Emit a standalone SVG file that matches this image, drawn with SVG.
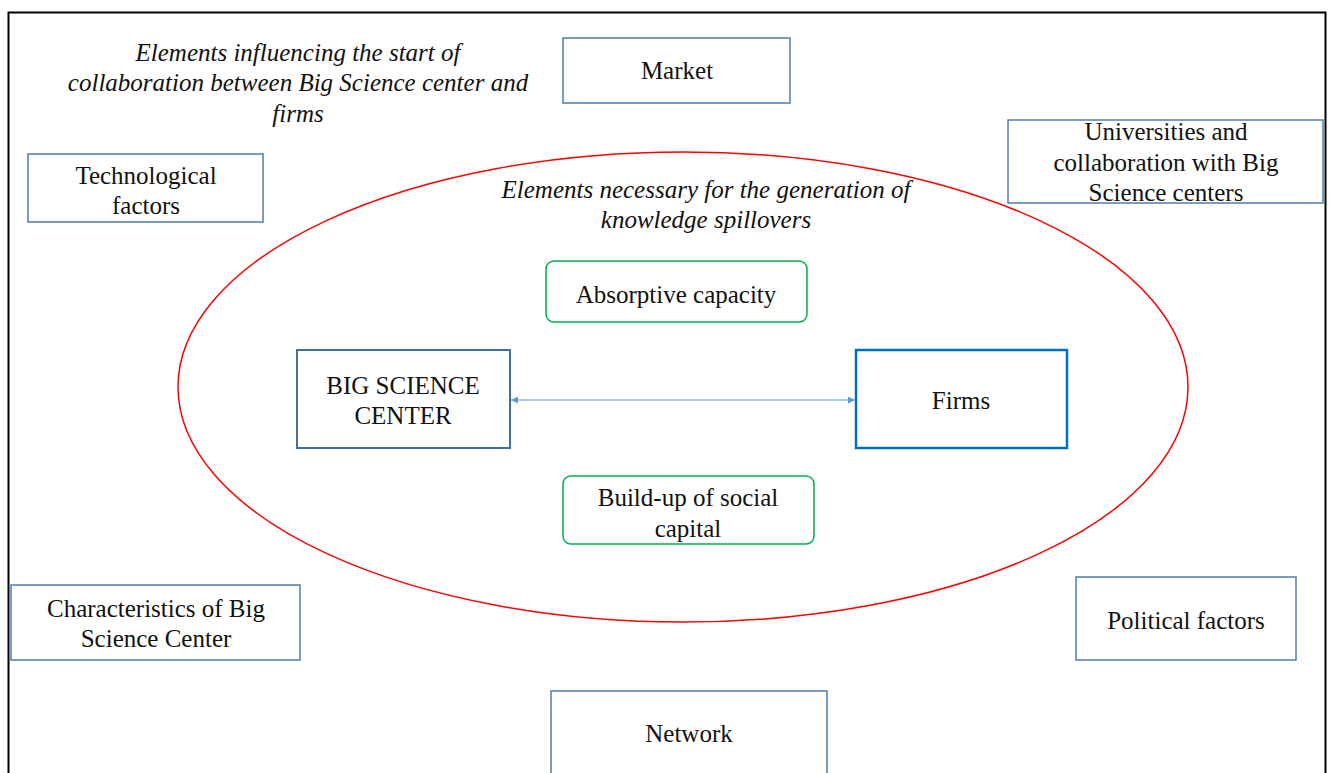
<svg xmlns="http://www.w3.org/2000/svg" width="1330" height="773" viewBox="0 0 1330 773">
  <defs>
    <style>
      .box { fill: #fff; stroke: #4f7cac; stroke-width: 1.5; }
      .core { fill: #fff; stroke: #41719c; stroke-width: 2; }
      .firm { fill: #fff; stroke: #0070c0; stroke-width: 2.5; }
      .soft { fill: #fff; stroke: #00b050; stroke-width: 1.5; }
      .lbl { font-family: "Liberation Serif", "Times New Roman", serif; font-size: 25px; fill: #111; text-anchor: middle; }
      .hdr { font-family: "Liberation Serif", "Times New Roman", serif; font-size: 25px; font-style: italic; fill: #111; text-anchor: middle; }
    </style>
    <marker id="tip" viewBox="0 0 10 10" refX="10" refY="5" markerWidth="7" markerHeight="7" orient="auto-start-reverse" markerUnits="userSpaceOnUse">
      <path d="M0,0 L10,5 L0,10 z" fill="#5b9bd5"/>
    </marker>
  </defs>

  <rect x="0" y="0" width="1330" height="773" fill="#fff"/>
  <!-- outer frame, open at the bottom -->
  <path d="M8.5,773 V12.5 H1325.5 V773" fill="none" stroke="#000" stroke-width="2"/>

  <g id="header-start">
    <text class="hdr" x="298" y="61">Elements influencing the start of</text>
    <text class="hdr" x="298" y="91">collaboration between Big Science center and</text>
    <text class="hdr" x="298" y="122">firms</text>
  </g>

  <g id="spillover-zone">
    <ellipse cx="683" cy="387" rx="505" ry="235" fill="none" stroke="#ff0000" stroke-width="1.5"/>
    <text class="hdr" x="706" y="198">Elements necessary for the generation of</text>
    <text class="hdr" x="706" y="228">knowledge spillovers</text>
  </g>

  <g id="market">
    <rect class="box" x="563" y="38" width="227" height="65"/>
    <text class="lbl" x="677" y="79">Market</text>
  </g>

  <g id="technological">
    <rect class="box" x="28" y="154" width="235" height="68"/>
    <text class="lbl" x="146" y="184">Technological</text>
    <text class="lbl" x="146" y="214">factors</text>
  </g>

  <g id="universities">
    <rect class="box" x="1008" y="120" width="315" height="83"/>
    <text class="lbl" x="1166" y="140">Universities and</text>
    <text class="lbl" x="1166" y="171">collaboration with Big</text>
    <text class="lbl" x="1166" y="201">Science centers</text>
  </g>

  <g id="absorptive">
    <rect class="soft" x="546" y="261" width="261" height="61" rx="8"/>
    <text class="lbl" x="676" y="303">Absorptive capacity</text>
  </g>

  <g id="big-science-center">
    <rect class="core" x="297" y="350" width="213" height="98"/>
    <text class="lbl" x="403" y="394">BIG SCIENCE</text>
    <text class="lbl" x="403" y="424">CENTER</text>
  </g>

  <g id="firms">
    <rect class="firm" x="856" y="350" width="211" height="98"/>
    <text class="lbl" x="961" y="409">Firms</text>
  </g>

  <g id="social-capital">
    <rect class="soft" x="563" y="476" width="251" height="68" rx="8"/>
    <text class="lbl" x="688" y="506">Build-up of social</text>
    <text class="lbl" x="688" y="537">capital</text>
  </g>

  <g id="characteristics">
    <rect class="box" x="11" y="585" width="289" height="75"/>
    <text class="lbl" x="156" y="617">Characteristics of Big</text>
    <text class="lbl" x="156" y="647">Science Center</text>
  </g>

  <g id="political">
    <rect class="box" x="1076" y="577" width="220" height="83"/>
    <text class="lbl" x="1186" y="629">Political factors</text>
  </g>

  <g id="network">
    <path class="box" d="M551,773 V691 H827 V773" fill="#fff"/>
    <text class="lbl" x="689" y="742">Network</text>
  </g>

  <g id="connectors">
    <line x1="511" y1="400" x2="855" y2="400" stroke="#5b9bd5" stroke-width="1" marker-start="url(#tip)" marker-end="url(#tip)"/>
  </g>
</svg>
